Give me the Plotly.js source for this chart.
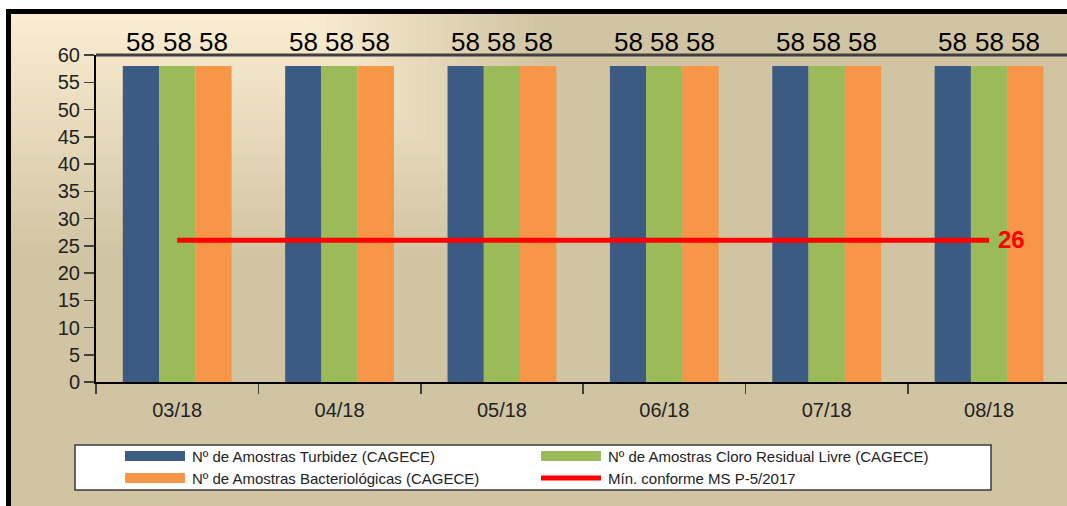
<!DOCTYPE html>
<html>
<head>
<meta charset="utf-8">
<script src="https://cdn.plot.ly/plotly-3.0.1.min.js"></script>
<style>html,body{margin:0;padding:0;background:#fff;}#chart{width:1067px;height:506px;}</style>
</head>
<body>
<div id="chart"></div>
<script>
// ---- data ----
var categories = ["03/18", "04/18", "05/18", "06/18", "07/18", "08/18"];
var turbidez = [58, 58, 58, 58, 58, 58];
var cloro = [58, 58, 58, 58, 58, 58];
var bacterio = [58, 58, 58, 58, 58, 58];
var minimo = [26, 26, 26, 26, 26, 26];
var seriesNames = [
  "Nº de Amostras Turbidez (CAGECE)",
  "Nº de Amostras Cloro Residual Livre (CAGECE)",
  "Nº de Amostras Bacteriológicas (CAGECE)",
  "Mín. conforme MS P-5/2017"
];
var minLabel = "26";

// ---- geometry helpers (pixel -> paper) ----
var W = 1067, H = 506;
var M = {l: 96, r: 0, t: 55, b: 124};
var PW = W - M.l - M.r, PH = H - M.t - M.b;
function X(px) { return (px - M.l) / PW; }
function Y(py) { return (H - M.b - py) / PH; }

var colors = {blue: "#3b5b83", green: "#9bbb59", orange: "#f79646", red: "#ff0000"};
var tan = [209, 196, 162], cream = [252, 238, 210];
var FAM = "Liberation Sans, Arial, sans-serif";

var shapes = [];
// frame fill
shapes.push({type: "rect", xref: "paper", yref: "paper", x0: X(9), x1: X(1100), y0: Y(12), y1: Y(540),
  fillcolor: "rgb(209,196,162)", line: {width: 0}, layer: "below"});
// rectangular gradient from the top-left corner (styling only)
var cx = 11, cy = 13, W0 = 290, D = 250, N = 30;
for (var i = 0; i < N; i++) {
  var s = 1 - i / N;               // size fraction (outer first)
  var c = tan.map(function (v, j) { return Math.round(cream[j] + (v - cream[j]) * s); });
  var d = D * s;
  shapes.push({type: "rect", xref: "paper", yref: "paper",
    x0: X(cx), x1: X(cx + W0 + d), y0: Y(cy), y1: Y(cy + d),
    fillcolor: "rgb(" + c.join(",") + ")", line: {width: 0}, layer: "below"});
}
// frame border
shapes.push({type: "rect", xref: "paper", yref: "paper", x0: X(8.5), x1: X(1100), y0: Y(11.5), y1: Y(540),
  fillcolor: "rgba(0,0,0,0)", line: {color: "#000", width: 5}, layer: "below"});
// plot area top border
shapes.push({type: "line", xref: "paper", yref: "paper", x0: 0, x1: 1, y0: 1, y1: 1,
  line: {color: "#404040", width: 3}, layer: "above"});
// legend box
shapes.push({type: "rect", xref: "paper", yref: "paper", x0: X(75), x1: X(991), y0: Y(445), y1: Y(490),
  fillcolor: "#ffffff", line: {color: "#3a3a3a", width: 1.5}, layer: "above"});

var legendItems = [
  {name: seriesNames[0], color: colors.blue, x: 125, y: 456, h: 10},
  {name: seriesNames[1], color: colors.green, x: 541, y: 456, h: 10},
  {name: seriesNames[2], color: colors.orange, x: 125, y: 478, h: 10},
  {name: seriesNames[3], color: colors.red, x: 541, y: 478, h: 5}
];
var annotations = [];
legendItems.forEach(function (it) {
  shapes.push({type: "rect", xref: "paper", yref: "paper", x0: X(it.x), x1: X(it.x + 60),
    y0: Y(it.y - it.h / 2), y1: Y(it.y + it.h / 2), fillcolor: it.color, line: {width: 0}, layer: "above"});
  annotations.push({xref: "paper", yref: "paper", x: X(it.x + 65), y: Y(it.y), xanchor: "left", yanchor: "middle",
    text: it.name, showarrow: false, font: {family: FAM, size: 15, color: "#222"}});
});

// bar value labels
var barSeries = [turbidez, cloro, bacterio];
var barW = PW / 5.98 * 0.67 / 3;
barSeries.forEach(function (vals, s) {
  vals.forEach(function (v, ci) {
    annotations.push({x: categories[ci], y: v, xref: "x", yref: "y", text: String(v), showarrow: false,
      xanchor: "center", yanchor: "bottom", xshift: (s - 1) * barW, yshift: 7,
      font: {family: FAM, size: 26, color: "#000"}});
  });
});
// minimum line label at last point
var last = minimo.length - 1;
annotations.push({x: categories[last], y: minimo[last], xref: "x", yref: "y", text: "<b>" + minLabel + "</b>",
  showarrow: false, xanchor: "left", yanchor: "middle", xshift: 7, yshift: 1,
  font: {family: FAM, size: 24, color: colors.red}});

var font = {family: FAM, size: 20, color: "#222"};

var traces = [
  {type: "bar", x: categories, y: turbidez, name: seriesNames[0], marker: {color: colors.blue}, showlegend: false},
  {type: "bar", x: categories, y: cloro, name: seriesNames[1], marker: {color: colors.green}, showlegend: false},
  {type: "bar", x: categories, y: bacterio, name: seriesNames[2], marker: {color: colors.orange}, showlegend: false},
  {type: "scatter", mode: "lines", x: categories, y: minimo, name: seriesNames[3],
    line: {color: colors.red, width: 5}, showlegend: false, cliponaxis: false}
];

var layout = {
  width: W, height: H,
  margin: M,
  paper_bgcolor: "#ffffff",
  plot_bgcolor: "rgba(0,0,0,0)",
  font: font,
  barmode: "group",
  bargap: 0.33,
  bargroupgap: 0,
  showlegend: false,
  xaxis: {
    type: "category", range: [-0.5, 5.48], tickson: "boundaries",
    showline: true, linecolor: "#000", linewidth: 2,
    ticks: "outside", ticklen: 10, tickwidth: 1.5, tickcolor: "#404040",
    ticklabelstandoff: 9,
    tickfont: font, showgrid: false, zeroline: false, fixedrange: true
  },
  yaxis: {
    range: [0, 60], dtick: 5, tick0: 0,
    showline: true, linecolor: "#000", linewidth: 2,
    ticks: "outside", ticklen: 10, tickwidth: 1.5, tickcolor: "#404040",
    tickfont: font, showgrid: false, zeroline: false, fixedrange: true
  },
  shapes: shapes,
  annotations: annotations
};

Plotly.newPlot("chart", traces, layout, {displayModeBar: false, staticPlot: true});
</script>
</body>
</html>
